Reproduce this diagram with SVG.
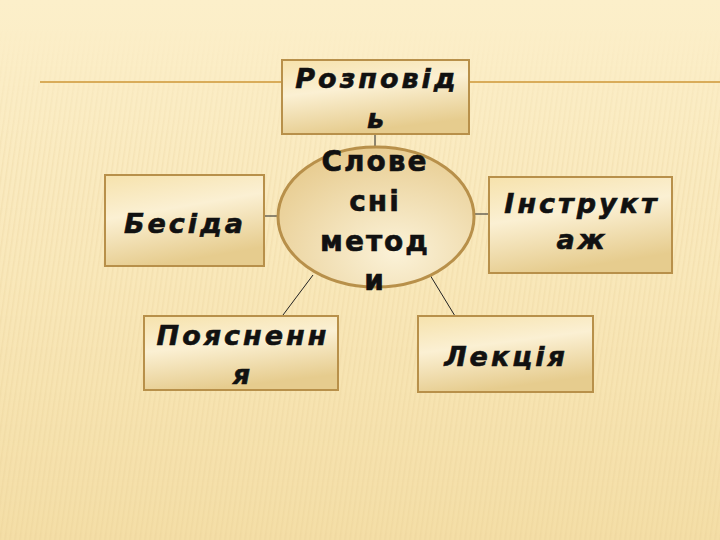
<svg xmlns="http://www.w3.org/2000/svg" width="720" height="540" viewBox="0 0 720 540">
<defs>
<linearGradient id="bg" x1="0" y1="0" x2="0" y2="1">
<stop offset="0" stop-color="#fcefca"/>
<stop offset="0.5" stop-color="#f9e8ba"/>
<stop offset="1" stop-color="#f4dea6"/>
</linearGradient>
<pattern id="stripes" width="5" height="540" patternUnits="userSpaceOnUse" patternTransform="skewX(-8)">
<rect x="0" y="0" width="1.5" height="540" fill="#e2c98c" opacity="0.22"/>
</pattern>
<linearGradient id="fade" x1="0" y1="0" x2="0" y2="1">
<stop offset="0.05" stop-color="#fff" stop-opacity="0"/>
<stop offset="0.3" stop-color="#fff" stop-opacity="1"/>
<stop offset="1" stop-color="#fff" stop-opacity="1"/>
</linearGradient>
<mask id="m"><rect width="720" height="540" fill="url(#fade)"/></mask>
<linearGradient id="box" x1="0" y1="0" x2="0.3" y2="1">
<stop offset="0" stop-color="#f6e2ac"/>
<stop offset="0.45" stop-color="#fbf0d3"/>
<stop offset="1" stop-color="#e6cc8e"/>
</linearGradient>
<radialGradient id="ell" cx="0.6" cy="0.75" r="0.75">
<stop offset="0" stop-color="#fbf2d8"/>
<stop offset="1" stop-color="#e8cd92"/>
</radialGradient>
<style>
.b{fill:url(#box);stroke:#b8904a;stroke-width:2}
.t{font-family:"DejaVu Sans",sans-serif;font-weight:bold;font-style:italic;font-size:27px;letter-spacing:3px;fill:#111;stroke:#111;stroke-width:0.6;text-anchor:middle}
.c{font-style:normal;font-size:28px;letter-spacing:2px}
.k{stroke:#222;stroke-width:1;fill:none}
</style>
</defs>
<rect width="720" height="540" fill="url(#bg)"/>
<rect width="720" height="540" fill="url(#stripes)" mask="url(#m)"/>
<line x1="40" y1="82" x2="720" y2="82" stroke="#d9ac5a" stroke-width="2"/>
<g id="connectors">
<line class="k" x1="375" y1="134" x2="375" y2="148"/>
<line class="k" x1="264" y1="216" x2="278" y2="216"/>
<line class="k" x1="474" y1="214" x2="489" y2="214"/>
<line class="k" x1="313" y1="275" x2="283" y2="315"/>
<line class="k" x1="430" y1="275" x2="455" y2="316"/>
</g>
<g id="center">
<ellipse cx="376" cy="217" rx="98" ry="70" fill="url(#ell)" stroke="#b8904a" stroke-width="3"/>
<text class="t c" x="375" y="171">Слове</text>
<text class="t c" x="375" y="211">сні</text>
<text class="t c" x="375" y="251">метод</text>
<text class="t c" x="375" y="290">и</text>
</g>
<g id="rozpovid">
<rect class="b" x="282" y="60" width="187" height="74"/>
<text class="t" x="377" y="88">Розповід</text>
<text class="t" x="377" y="128">ь</text>
</g>
<g id="besida">
<rect class="b" x="105" y="175" width="159" height="91"/>
<text class="t" x="185" y="233">Бесіда</text>
</g>
<g id="instruktazh">
<rect class="b" x="489" y="177" width="183" height="96"/>
<text class="t" x="582" y="213">Інструкт</text>
<text class="t" x="582" y="249">аж</text>
</g>
<g id="poyasnennya">
<rect class="b" x="144" y="316" width="194" height="74"/>
<text class="t" x="243" y="345">Поясненн</text>
<text class="t" x="243" y="384">я</text>
</g>
<g id="lektsiya">
<rect class="b" x="418" y="316" width="175" height="76"/>
<text class="t" x="506" y="366">Лекція</text>
</g>
</svg>
